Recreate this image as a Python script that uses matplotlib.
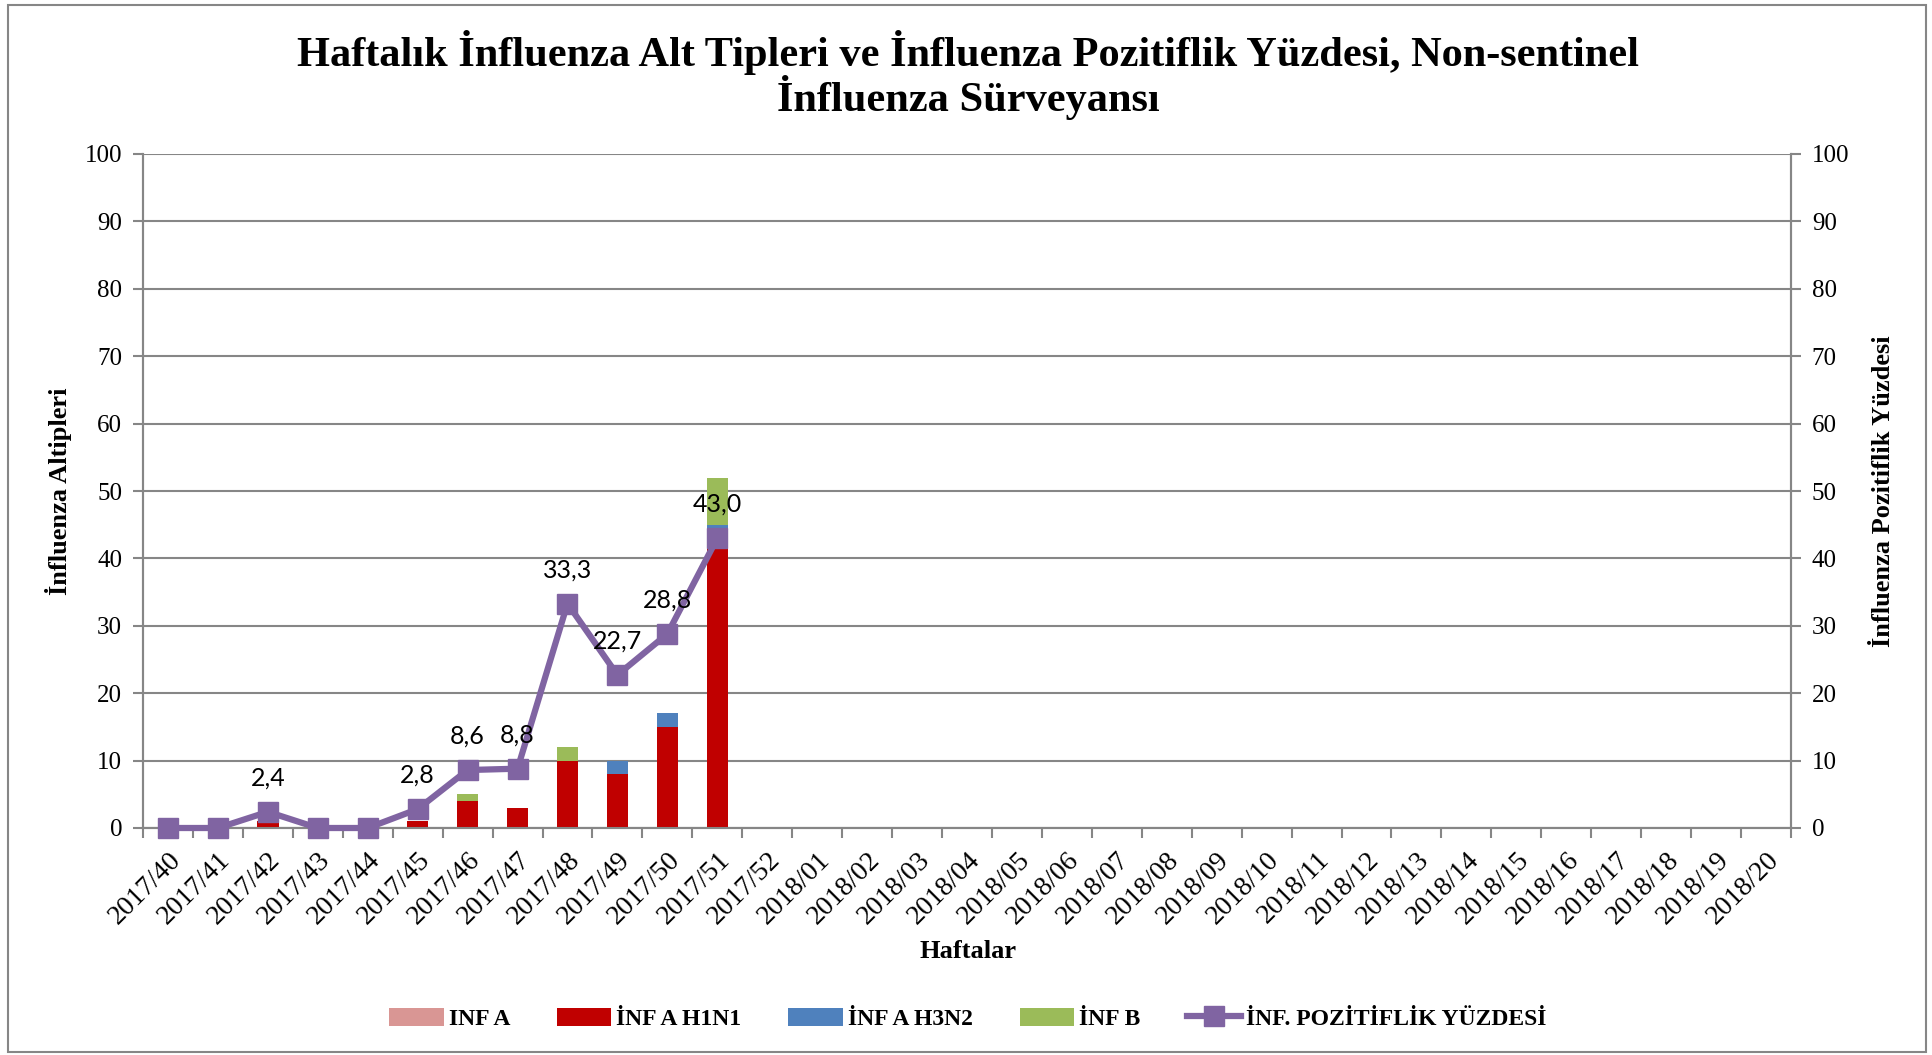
import numpy as np
import matplotlib
matplotlib.use('Agg')
from matplotlib import pyplot as plt
from matplotlib.patches import Rectangle

# weeks on the x axis
weeks = ['2017/%d' % w for w in range(40, 53)] + ['2018/%02d' % w for w in range(1, 21)]

# influenza subtypes per week (only weeks with data)
inf_a      = [0, 0, 0, 0, 0, 0, 0, 0, 0, 0, 0, 0]
inf_a_h1n1 = [0, 0, 1, 0, 0, 1, 4, 3, 10, 8, 15, 42]
inf_a_h3n2 = [0, 0, 0, 0, 0, 0, 0, 0, 0, 2, 2, 3]
inf_b      = [0, 0, 0, 0, 0, 0, 1, 0, 2, 0, 0, 7]
pozitiflik = [0, 0, 2.4, 0, 0, 2.8, 8.6, 8.8, 33.3, 22.7, 28.8, 43.0]

serif = 'Liberation Serif'
grid_col = '#868686'

fig = plt.figure(figsize=(19.32, 10.55), dpi=100)
fig.patches.append(Rectangle((8/1932, 3/1055), 1918/1932, 1047/1055, transform=fig.transFigure,
                             fill=False, edgecolor=grid_col, linewidth=1.5))

ax = fig.add_axes([143/1932, 1 - 828/1055, (1791 - 143)/1932, (828 - 154)/1055])
ax2 = ax.twinx()

n = len(inf_a)
x = np.arange(n)
w = 0.43
a = np.array(inf_a)
h1 = np.array(inf_a_h1n1)
h3 = np.array(inf_a_h3n2)
b = np.array(inf_b)
ax.bar(x, a, w, color='#D99694', label='INF A', zorder=3)
ax.bar(x, h1, w, bottom=a, color='#C00000', label='İNF A H1N1', zorder=3)
ax.bar(x, h3, w, bottom=a + h1, color='#4F81BD', label='İNF A H3N2', zorder=3)
ax.bar(x, b, w, bottom=a + h1 + h3, color='#9BBB59', label='İNF B', zorder=3)

ax2.plot(x, pozitiflik, color='#8064A2', linewidth=4.5, marker='s', markersize=14,
         label='İNF. POZİTİFLİK YÜZDESİ', zorder=4, clip_on=False)
for xi, v in zip(x, pozitiflik):
    if v > 0:
        ax2.annotate(('%.1f' % v).replace('.', ','), (xi, v), xytext=(0, 16),
                     textcoords='offset points', ha='center', va='bottom',
                     fontsize=18, family='Lato', zorder=5)

for axis in (ax, ax2):
    axis.set_ylim(0, 100)
    axis.set_yticks(range(0, 101, 10))
    axis.set_xlim(-0.5, len(weeks) - 0.5)
    for s in axis.spines.values():
        s.set_color(grid_col)
        s.set_linewidth(1.5)
    axis.spines['top'].set_visible(False)

ax.grid(axis='y', color=grid_col, linewidth=1.5, zorder=0)
ax.set_axisbelow(True)

ax.set_xticks(np.arange(len(weeks)))
ax.set_xticklabels(weeks, rotation=45, ha='right', rotation_mode='anchor',
                   family=serif, fontsize=20)
ax.set_xticks(np.arange(len(weeks) + 1) - 0.5, minor=True)
ax.tick_params(axis='x', which='major', length=0, pad=14)
ax.tick_params(axis='x', which='minor', length=7, width=1.5, color=grid_col)
ax.tick_params(axis='y', length=7, width=1.5, color=grid_col, pad=8)
ax2.tick_params(axis='y', length=7, width=1.5, color=grid_col, pad=8)
for lab in ax.get_yticklabels() + ax2.get_yticklabels():
    lab.set_family(serif)
    lab.set_fontsize(18)

ax.set_ylabel('İnfluenza Altipleri', family=serif, fontweight='bold', fontsize=19, labelpad=9)
ax2.set_ylabel('İnfluenza Pozitiflik Yüzdesi', family=serif, fontweight='bold', fontsize=19,
               labelpad=16)
fig.text(968/1932, 1 - 951/1055, 'Haftalar', family=serif, fontweight='bold', fontsize=19,
         ha='center', va='center')

fig.text(968/1932, 1 - 75/1055, 'Haftalık İnfluenza Alt Tipleri ve İnfluenza Pozitiflik Yüzdesi, Non-sentinel\nİnfluenza Sürveyansı',
         family=serif, fontweight='bold', fontsize=30.5, ha='center', va='center', linespacing=1.02)

h_a, l_a = ax.get_legend_handles_labels()
h_b, l_b = ax2.get_legend_handles_labels()
fig.legend(h_a + h_b, l_a + l_b, loc='center', bbox_to_anchor=(968/1932, 1 - 1019/1055), ncol=5,
           frameon=False, prop={'family': serif, 'weight': 'bold', 'size': 17},
           handlelength=2.3, handleheight=0.8, columnspacing=2.0, handletextpad=0.2)

fig.savefig('out.png', dpi=100)
